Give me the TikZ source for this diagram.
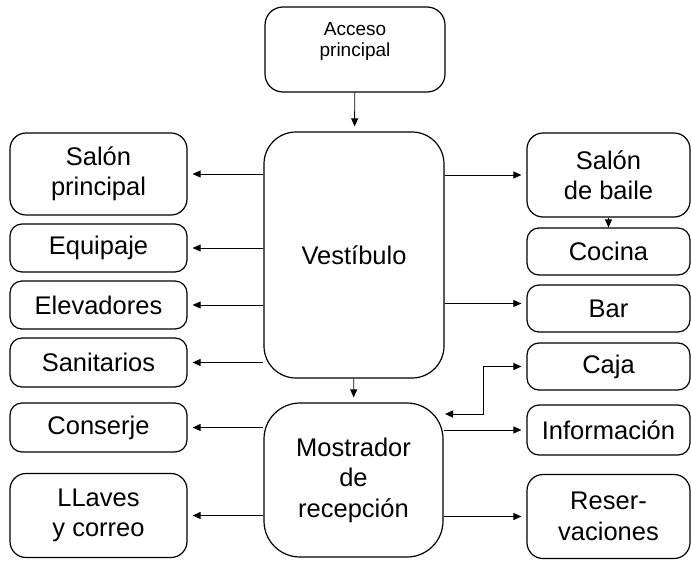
\documentclass[tikz,border=0pt]{standalone}
\usepackage{fontspec}
\setmainfont{Liberation Sans}
\usetikzlibrary{arrows.meta}

\begin{document}
\begin{tikzpicture}[x=1pt,y=-1pt,>={Triangle[length=8pt,width=7pt]},
  box/.style={draw,line width=1.2pt,rounded corners=12pt,align=center,inner sep=0pt,font=\fontsize{25.5}{30.5}\selectfont},
  leftbox/.style={box,minimum width=177pt},
  rightbox/.style={box,minimum width=163pt},
  arr/.style={->,line width=0.9pt,shorten >=5pt}]
\useasboundingbox (0,0) rectangle (691,560);
% centre
\node[box,minimum width=180pt,minimum height=85pt,rounded corners=18pt,
  label={[anchor=north,yshift=-12pt,align=center,font=\fontsize{19}{21}\selectfont]north:Acceso\\principal}] (acceso) at (355,49.5) {};
\node[box,minimum width=180pt,minimum height=246pt,rounded corners=32pt] (vest) at (354,255) {Vestíbulo};
\node[box,minimum width=179pt,minimum height=154pt,rounded corners=36pt] (mostr) at (353.5,480) {Mostrador\\de\\recepción};
% left column
\node[leftbox,minimum height=82pt,rounded corners=16pt] (salonp) at (98.5,174) {Salón\\principal};
\node[leftbox,minimum height=48pt] (equip) at (98.5,248) {Equipaje};
\node[leftbox,minimum height=48pt] (elev) at (98.5,305) {Elevadores};
\node[leftbox,minimum height=49pt] (sanit) at (98.5,362.5) {Sanitarios};
\node[leftbox,minimum height=49pt] (conserje) at (98.5,427.5) {Conserje};
\node[leftbox,minimum height=84pt,rounded corners=16pt] (llaves) at (98.5,515.5) {LLaves\\y correo};
% right column
\node[rightbox,minimum height=84pt,rounded corners=16pt] (salonb) at (608.5,175) {Salón\\de baile};
\node[rightbox,minimum height=47pt] (cocina) at (608.5,251.5) {Cocina};
\node[rightbox,minimum height=47pt] (bar) at (608.5,308.5) {Bar};
\node[rightbox,minimum height=47pt] (caja) at (608.5,366.5) {Caja};
\node[rightbox,minimum height=50pt] (info) at (608.5,430) {Información};
\node[rightbox,minimum height=84pt,rounded corners=16pt] (reserv) at (608.5,516.5) {Reser-\\vaciones};
% connectors
\draw[arr] (acceso) -- (vest);
\draw[arr] (vest) -- (mostr);
\draw[arr] (vest.west |- salonp) -- (salonp.east);
\draw[arr] (vest.west |- equip) -- (equip.east);
\draw[arr] (vest.west |- elev) -- (elev.east);
\draw[arr] (vest.west |- sanit) -- (sanit.east);
\draw[arr] (vest.east |- salonb) -- (salonb.west);
\draw[arr] ([yshift=5pt]vest.east |- bar) -- ([yshift=5pt]bar.west);
\draw[arr,shorten >=0pt] (salonb) -- (cocina);
\draw[arr] (mostr.west |- conserje) -- (conserje.east);
\draw[arr] (mostr.west |- llaves) -- (llaves.east);
\draw[arr] (mostr.east |- info) -- (info.west);
\draw[arr] (mostr.east |- reserv) -- (reserv.west);
\coordinate (mostrne) at (445,414);
\coordinate (bend) at (483,414);
\draw[arr,<->] (mostrne) -- (bend) |- (caja.west);
\end{tikzpicture}
\end{document}
